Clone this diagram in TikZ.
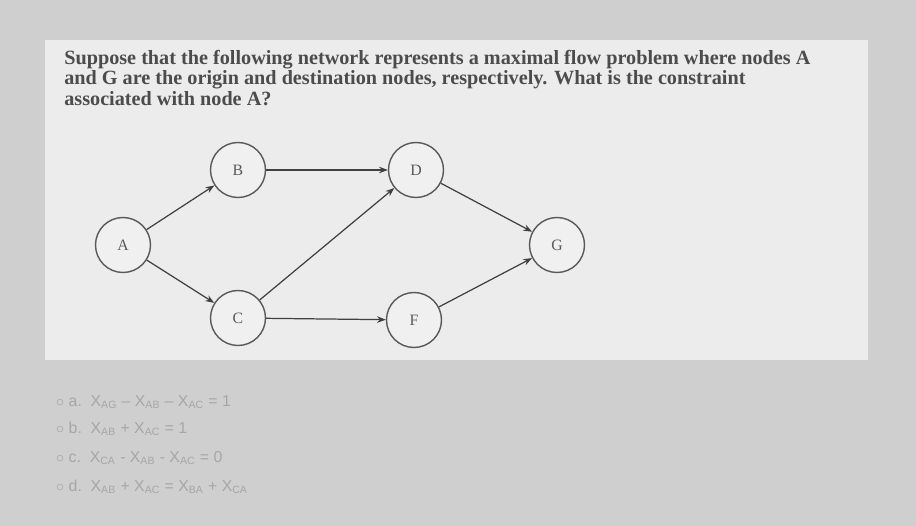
\documentclass[tikz,border=0pt]{standalone}
\usepackage{fontspec}
\setmainfont{Liberation Serif}
\newfontfamily\optfont{Liberation Sans}
\usetikzlibrary{arrows.meta}
\begin{document}
\begin{tikzpicture}[x=0.02cm,y=-0.02cm,
  nd/.style={circle,draw=gray!70!black,fill=gray!12,line width=0.8pt,minimum size=1.1cm,font=\small,text=gray!70!black},
  ar/.style={draw=black!75,line width=0.7pt,-{Stealth[length=5pt]}},
  opt/.style={anchor=west,font=\optfont\small,text=gray!70}]
\fill[gray!38] (0,0) rectangle (916,526);
\fill[gray!15] (45,40) rectangle (868,360);
\node[anchor=north west,font=\fontsize{11.5}{10.5}\selectfont\bfseries,text=black!70,align=left,inner sep=0pt] (q) at (64,50)
 {Suppose that the following network represents a maximal flow problem where nodes A\\ and G are the origin and destination nodes, respectively. What is the constraint\\ associated with node A?};
\node[nd] (A) at (123,245) {A};
\node[nd] (B) at (238,170) {B};
\node[nd] (C) at (238,318) {C};
\node[nd] (D) at (416,170) {D};
\node[nd] (F) at (414,320) {F};
\node[nd] (G) at (557,245) {G};
\draw[ar] (A) -- (B);
\draw[ar] (A) -- (C);
\draw[ar] (B) -- (D);
\draw[ar] (C) -- (D);
\draw[ar] (C) -- (F);
\draw[ar] (D) -- (G);
\draw[ar] (F) -- (G);
\node[opt] (oa) at (50,402) {$\circ$\ a.\ \ X\textsubscript{AG} – X\textsubscript{AB} – X\textsubscript{AC} = 1};
\node[opt] (ob) at (50,429) {$\circ$\ b.\ \ X\textsubscript{AB} + X\textsubscript{AC} = 1};
\node[opt] (oc) at (50,458) {$\circ$\ c.\ \ X\textsubscript{CA} - X\textsubscript{AB} - X\textsubscript{AC} = 0};
\node[opt] (od) at (50,487) {$\circ$\ d.\ \ X\textsubscript{AB} + X\textsubscript{AC} = X\textsubscript{BA} + X\textsubscript{CA}};
\end{tikzpicture}
\end{document}
